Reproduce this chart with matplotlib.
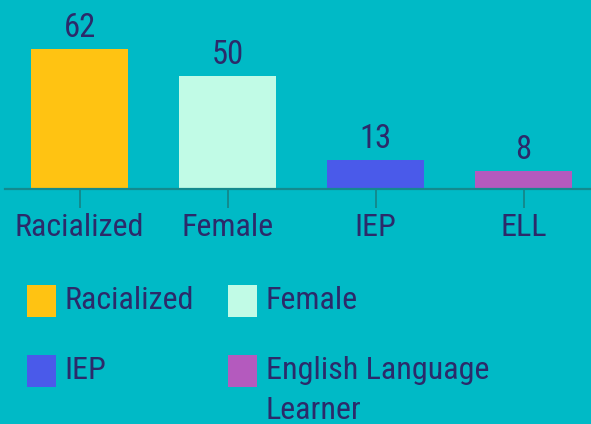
import matplotlib
matplotlib.use('Agg')
import matplotlib.pyplot as plt
from matplotlib import font_manager
from matplotlib.patches import Rectangle

categories = ['Racialized', 'Female', 'IEP', 'ELL']
counts = [62, 50, 13, 8]
legend_labels = ['Racialized', 'Female', 'IEP', 'English Language\nLearner']
bar_colors = ['#FFC312', '#C1FBE6', '#4A5AEA', '#B45ABE']

BG = '#00BAC6'
TEXT = '#2C2A6A'
AXIS = '#138A8E'

names = {f.name for f in font_manager.fontManager.ttflist}
font = 'Roboto Condensed' if 'Roboto Condensed' in names else 'Roboto'
plt.rcParams['font.family'] = [font, 'DejaVu Sans']

W, H = 591, 424
fig = plt.figure(figsize=(W / 100, H / 100), dpi=100, facecolor=BG)

# axes: left edge at x=5px, x axis line at y=189px
ax = fig.add_axes([5 / W, 1 - 189 / H, 586 / W, 189 / H])
ax.set_facecolor(BG)
ax.bar(range(len(categories)), counts, width=97 / 148, color=bar_colors)
ax.set_xlim((5 - 79.5) / 148, (591 - 79.5) / 148)
ax.set_ylim(0, 189 / 2.26)

for i, v in enumerate(counts):
    ax.annotate(str(v), (i, v), xytext=(0, 8.6), textcoords='offset points',
                ha='center', va='baseline', fontsize=23.5, color=TEXT)

for side in ['top', 'right', 'left']:
    ax.spines[side].set_visible(False)
ax.spines['bottom'].set_color(AXIS)
ax.spines['bottom'].set_linewidth(1.6)
ax.set_yticks([])
ax.set_xticks(range(len(categories)))
ax.set_xticklabels(categories, fontsize=23, color=TEXT)
ax.tick_params(axis='x', length=13.7, width=1.4, color=AXIS, pad=3.5)

# legend, two columns; wrapped labels drawn line by line
sq_x = [27, 228]
row_y = [301, 371]
for i, (lab, col) in enumerate(zip(legend_labels, bar_colors)):
    cx = sq_x[i % 2]
    cy = row_y[i // 2]
    fig.add_artist(Rectangle((cx / W, 1 - (cy + 16) / H), 29 / W, 32 / H,
                             transform=fig.transFigure, color=col, lw=0))
    for k, line in enumerate(lab.split('\n')):
        fig.text((cx + 37.5) / W, 1 - (cy + 8 + 40 * k) / H, line, fontsize=23,
                 color=TEXT, ha='left', va='baseline')

fig.savefig('out.png', dpi=100, facecolor=BG)
